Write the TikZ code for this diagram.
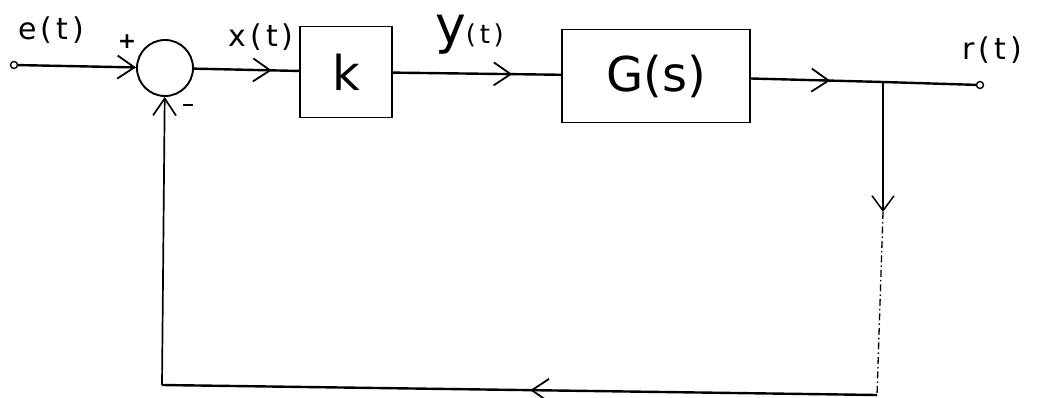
\documentclass[tikz,border=0pt]{standalone}
\usepackage{fontspec}
\usetikzlibrary{arrows.meta,decorations.markings}
\newfontfamily\hand[LetterSpace=14]{DejaVu Sans}
\newfontfamily\handbig{DejaVu Sans}
\begin{document}
\begin{tikzpicture}[x=1pt,y=-1pt,
  hb/.tip={Straight Barb[length=17pt,width=23pt]},
  mainline/.style={line width=2.4pt},
  thinline/.style={line width=1.7pt},
  blockbox/.style={draw,line width=1.9pt,inner sep=0pt},
  sumnode/.style={draw,circle,line width=1.9pt,minimum size=56pt,inner sep=0pt},
  terminal/.style={draw,circle,line width=1.4pt,fill=white,minimum size=7pt,inner sep=0pt},
  lbl/.style={font=\hand\fontsize{30}{32}\selectfont,inner sep=0pt,anchor=base west},
  sign/.style={font=\handbig\bfseries\fontsize{22}{24}\selectfont,inner sep=0pt},
  boxtext/.style={font=\handbig\fontsize{48}{50}\selectfont},
  midarrow/.style={postaction={decorate},decoration={markings,mark=at position #1 with {\arrow[line width=1.8pt]{hb}}}}
]
\useasboundingbox (0,0) rectangle (1040,398);

% nodes
\node[terminal] (in) at (14,65) {};
\node[sumnode] (sum) at (165,68) {};
\node[blockbox,minimum width=92pt,minimum height=91pt,boxtext] (k) at (346,72) {k};
\node[blockbox,minimum width=188pt,minimum height=93pt,boxtext] (G) at (656,76) {G(s)};
\node[terminal] (out) at (980,85) {};
\coordinate (j) at (883,82);
\coordinate (dn) at (883,212);
\coordinate (br) at (877,395);
\coordinate (bl) at (162,385);

% labels
\node[lbl] (elab) at (18,40) {e(t)};
\node[sign] (plus) at (127,42) {+};
\node[sign] (minus) at (188,107) {\rule[0.3ex]{10pt}{2.4pt}};
\node[lbl] (xlab) at (228,47) {x(t)};
\node[inner sep=0pt,anchor=base west] (ylab) at (435,44) {\handbig\fontsize{52}{54}\selectfont y\hand\fontsize{26}{28}\selectfont (t)};
\node[lbl] (rlab) at (962,60) {r(t)};

% connectors
\draw[mainline,-{hb[line width=1.8pt]}] (in) -- (sum);
\draw[mainline,midarrow=0.74] (sum) -- (k);
\draw[mainline,midarrow=0.71] (k) -- (G);
\draw[mainline,midarrow=0.6] (G) -- (j);
\draw[mainline] (j) -- (out);
\draw[thinline,-{hb[length=15pt,width=22pt,line width=1.5pt]}] (j) -- (dn);
\draw[line width=1.3pt,dash pattern=on 7pt off 3pt on 1.5pt off 3pt] (dn) -- (br);
\draw[mainline,midarrow=0.485] (br) -- (bl);
\draw[thinline,-{hb[line width=1.7pt]}] (bl) -- (sum);
\end{tikzpicture}
\end{document}
